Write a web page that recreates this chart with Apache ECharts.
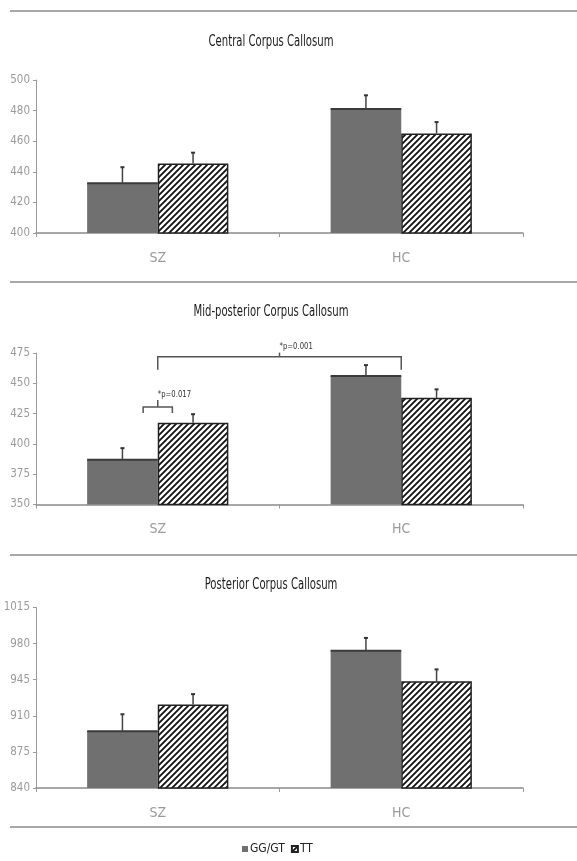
<!DOCTYPE html>
<html>
<head>
<meta charset="utf-8">
<script src="https://cdn.jsdelivr.net/npm/echarts@6/dist/echarts.min.js"></script>
<style>html,body{margin:0;padding:0;background:#fff}#c{width:577px;height:861px}</style>
</head>
<body>
<div id="c"></div>
<script>
// ---- data ----
var categories = ['SZ', 'HC'];
var seriesNames = ['GG/GT', 'TT'];
var panelTitles = ['Central Corpus Callosum', 'Mid-posterior Corpus Callosum', 'Posterior Corpus Callosum'];

var centralGG = [432.5, 481];
var centralTT = [445.5, 465];
var centralErrGG = [10.5, 9];
var centralErrTT = [7, 7.5];

var midGG = [387, 456];
var midTT = [417.5, 438];
var midErrGG = [9.5, 9];
var midErrTT = [7, 7];

var postGG = [895, 973];
var postTT = [921, 943.5];
var postErrGG = [16.5, 12.5];
var postErrTT = [10, 11.5];

var axisMin = [400, 350, 840];
var axisMax = [500, 475, 1015];
var axisStep = [20, 25, 35];

// significance brackets (mid-posterior panel): [fromCategory, toCategory, value, label]
var bracketWide = [0, 1, 472, '*p=0.001'];
var bracketShort = [0, 0, 430.5, '*p=0.017'];

// ---- styling ----
var FONT = '"DejaVu Sans Condensed", "Liberation Sans Narrow", "Liberation Sans", sans-serif';
var GG_COLOR = '#707070';

function hatch() {
  var s = 6;
  var cv = document.createElement('canvas');
  cv.width = s; cv.height = s;
  var ctx = cv.getContext('2d');
  ctx.fillStyle = '#fff';
  ctx.fillRect(0, 0, s, s);
  ctx.strokeStyle = '#111';
  ctx.lineWidth = 1.8;
  ctx.beginPath();
  ctx.moveTo(-1, s + 1); ctx.lineTo(s + 1, -1);
  ctx.moveTo(-1, 1); ctx.lineTo(1, -1);
  ctx.moveTo(s - 1, s + 1); ctx.lineTo(s + 1, s - 1);
  ctx.stroke();
  return cv;
}
var hatchPattern = { image: hatch(), repeat: 'repeat' };

var GAP = 0.42;
var grids = [
  { left: 36, right: 54, top: 80, height: 153, containLabel: false, outerBoundsMode: 'none' },
  { left: 36, right: 54, top: 353, height: 151.5, containLabel: false, outerBoundsMode: 'none' },
  { left: 36, right: 54, top: 607.5, height: 180.5, containLabel: false, outerBoundsMode: 'none' }
];
var titleY = [42, 312, 585];

function errRender(which) {
  return function (params, api) {
    var cat = api.value(0), val = api.value(1), err = api.value(2);
    var band = api.size([1, 0])[0];
    var bw = band * (1 - GAP) / 2;
    var p0 = api.coord([cat, val]);
    var p1 = api.coord([cat, val + err]);
    var x = p0[0] + (which === 0 ? -bw / 2 : bw / 2);
    return {
      type: 'group',
      children: [
        { type: 'line', shape: { x1: x, y1: p0[1], x2: x, y2: p1[1] }, style: { stroke: '#444', lineWidth: 1.5 } },
        { type: 'line', shape: { x1: x - 2, y1: p1[1], x2: x + 2, y2: p1[1] }, style: { stroke: '#333', lineWidth: 2 } }
      ]
    };
  };
}

function bracketRender(params, api) {
  var a = api.value(0), b = api.value(1), v = api.value(2);
  var label = params.dataIndex === 0 ? bracketWide[3] : bracketShort[3];
  var pa = api.coord([a, v]), pb = api.coord([b, v]);
  var band = api.size([1, 0])[0];
  var x1, x2, drop, up, xc;
  if (a !== b) {
    x1 = pa[0]; x2 = pb[0]; drop = 13; up = 4; xc = (x1 + x2) / 2;
  } else {
    var half = band * 0.06;
    x1 = pa[0] - half; x2 = pa[0] + half; drop = 6; up = 7; xc = pa[0];
  }
  var y = pa[1];
  var st = { stroke: '#555', lineWidth: 1.5, fill: null };
  return {
    type: 'group',
    children: [
      { type: 'polyline', shape: { points: [[x1, y + drop], [x1, y], [x2, y], [x2, y + drop]] }, style: st },
      { type: 'line', shape: { x1: xc, y1: y, x2: xc, y2: y - up }, style: st },
      { type: 'text', x: xc, y: y - up - 1, scaleX: 0.85, style: { text: label, fill: '#333', font: '9px ' + FONT, textAlign: 'left', textVerticalAlign: 'bottom' } }
    ]
  };
}

var ggSets = [centralGG, midGG, postGG];
var ttSets = [centralTT, midTT, postTT];
var ggErr = [centralErrGG, midErrGG, postErrGG];
var ttErr = [centralErrTT, midErrTT, postErrTT];

var xAxes = [], yAxes = [], series = [], graphics = [];
for (var i = 0; i < 3; i++) {
  graphics.push({
    type: 'text', x: 271, y: titleY[i], scaleX: 0.7, silent: true,
    style: { text: panelTitles[i], font: '16px ' + FONT, fill: '#1a1a1a', textAlign: 'center', textVerticalAlign: 'middle' }
  });
  xAxes.push({
    type: 'category', gridIndex: i, data: categories,
    axisLine: { lineStyle: { color: '#8a8a8a', width: 1.5 } },
    axisTick: { show: true, length: 4, lineStyle: { color: '#999' } },
    axisLabel: { margin: 18, color: '#9a9a9a', fontFamily: FONT, fontSize: 14 }
  });
  yAxes.push({
    type: 'value', gridIndex: i, min: axisMin[i], max: axisMax[i], interval: axisStep[i],
    splitLine: { show: false },
    axisLine: { show: true, lineStyle: { color: '#9a9a9a', width: 1 } },
    axisTick: { show: true, length: 3, lineStyle: { color: '#9a9a9a' } },
    axisLabel: { margin: 6, color: '#9a9a9a', fontFamily: FONT, fontSize: 11.5, formatter: function (v) { return String(v); } }
  });
  series.push({
    name: seriesNames[0], type: 'bar', xAxisIndex: i, yAxisIndex: i,
    data: ggSets[i], barGap: '0%', barCategoryGap: '42%',
    itemStyle: { color: GG_COLOR, borderColor: '#4a4a4a', borderWidth: 0 },
    emphasis: { disabled: true }
  });
  series.push({
    name: seriesNames[1], type: 'bar', xAxisIndex: i, yAxisIndex: i,
    data: ttSets[i], barGap: '0%', barCategoryGap: '42%',
    itemStyle: { color: hatchPattern, borderColor: '#222', borderWidth: 1.5 },
    emphasis: { disabled: true }
  });
  // top edge of GG bars
  series.push({
    type: 'custom', xAxisIndex: i, yAxisIndex: i, silent: true, z: 3,
    data: ggSets[i].map(function (v, k) { return [k, v]; }),
    renderItem: function (params, api) {
      var band = api.size([1, 0])[0];
      var bw = band * (1 - GAP) / 2;
      var p = api.coord([api.value(0), api.value(1)]);
      return { type: 'line', shape: { x1: p[0] - bw, y1: p[1], x2: p[0], y2: p[1] }, style: { stroke: '#3a3a3a', lineWidth: 2 } };
    }
  });
  series.push({
    type: 'custom', xAxisIndex: i, yAxisIndex: i, silent: true, z: 4,
    data: ggSets[i].map(function (v, k) { return [k, v, ggErr[i][k]]; }),
    renderItem: errRender(0)
  });
  series.push({
    type: 'custom', xAxisIndex: i, yAxisIndex: i, silent: true, z: 4,
    data: ttSets[i].map(function (v, k) { return [k, v, ttErr[i][k]]; }),
    renderItem: errRender(1)
  });
}
series.push({
  type: 'custom', xAxisIndex: 1, yAxisIndex: 1, silent: true, z: 5,
  data: [[bracketWide[0], bracketWide[1], bracketWide[2]], [bracketShort[0], bracketShort[1], bracketShort[2]]],
  renderItem: bracketRender
});

[11, 282, 555, 827].forEach(function (y) {
  graphics.push({ type: 'line', shape: { x1: 10, y1: y, x2: 577, y2: y }, style: { stroke: '#a8a8a8', lineWidth: 2 }, silent: true });
});

var chart = echarts.init(document.getElementById('c'), null, { renderer: 'canvas' });
chart.setOption({
  animation: false,
  backgroundColor: '#fff',
  grid: grids,
  xAxis: xAxes,
  yAxis: yAxes,
  legend: {
    data: seriesNames, left: 237, top: 838, itemWidth: 6, itemHeight: 6, itemGap: 6,
    icon: 'rect',
    textStyle: { fontFamily: FONT, fontSize: 12, color: '#222', padding: [0, 0, 0, -3] }
  },
  graphic: graphics,
  series: series
});
</script>
</body>
</html>
